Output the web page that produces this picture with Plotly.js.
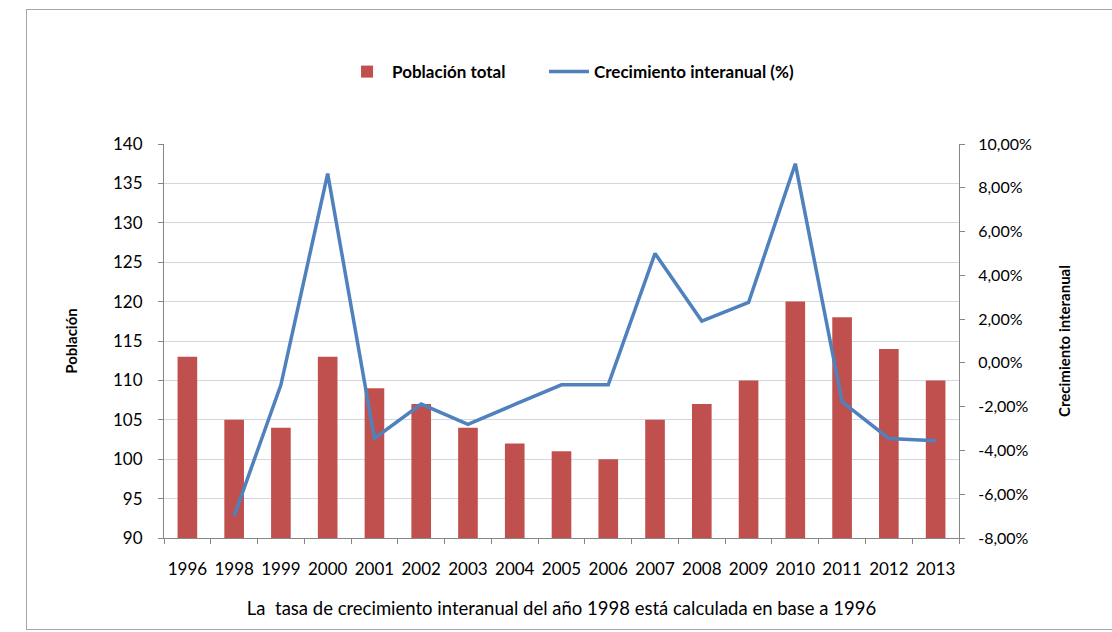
<!DOCTYPE html>
<html>
<head>
<meta charset="utf-8">
<script src="https://cdn.plot.ly/plotly-3.0.1.min.js"></script>
<style>
  html, body { margin: 0; padding: 0; background: #ffffff; }
  #wrap { position: relative; width: 1112px; height: 632px; overflow: hidden; }
  #frame { position: absolute; left: 26px; top: 9px; width: 1100px; height: 621px; border: 1px solid #a6a6a6; box-sizing: border-box; pointer-events: none; }
  #chart { position: absolute; left: 0; top: 0; width: 1112px; height: 632px; }
</style>
</head>
<body>
<div id="wrap">
  <div id="chart"></div>
  <div id="frame"></div>
</div>
<script>
const years = ["1996","1998","1999","2000","2001","2002","2003","2004","2005","2006","2007","2008","2009","2010","2011","2012","2013"];
const poblacionTotal = [113,105,104,113,109,107,104,102,101,100,105,107,110,120,118,114,110];
const crecimientoInteranual = [null,-7.0,-1.0,8.65,-3.45,-1.88,-2.81,-1.9,-1.0,-1.0,5.0,1.91,2.76,9.1,-1.78,-3.45,-3.56];
const leftTicks = [90,95,100,105,110,115,120,125,130,135,140];
const rightTicks = [-8,-6,-4,-2,0,2,4,6,8,10];
const rightTickText = rightTicks.map(v => v.toFixed(2).replace(".", ",") + "%");

const FONT = "Lato, 'Open Sans', sans-serif";
const legendFont = { family: FONT, size: 17, color: "#000000", weight: "bold" };

const traces = [
  {
    type: "bar",
    name: "Población total",
    x: years,
    y: poblacionTotal,
    marker: { color: "#C0504D" },
    yaxis: "y",
    legend: "legend"
  },
  {
    type: "scatter",
    mode: "lines",
    name: "Crecimiento interanual (%)",
    x: years,
    y: crecimientoInteranual,
    line: { color: "#4F81BD", width: 3.5 },
    yaxis: "y2",
    legend: "legend2"
  }
];

const layout = {
  width: 1112,
  height: 632,
  paper_bgcolor: "rgba(0,0,0,0)",
  plot_bgcolor: "#ffffff",
  separators: ",.",
  margin: { l: 164, r: 153, t: 144, b: 94 },
  font: { family: FONT, size: 16, color: "#000000" },
  bargap: 0.58,
  showlegend: true,
  legend: {
    orientation: "h",
    xref: "container", yref: "container",
    x: 0.3076, xanchor: "left",
    y: 0.886, yanchor: "middle",
    font: legendFont,
    itemwidth: 40,
    bgcolor: "rgba(0,0,0,0)"
  },
  legend2: {
    orientation: "h",
    xref: "container", yref: "container",
    x: 0.4892, xanchor: "left",
    y: 0.886, yanchor: "middle",
    font: legendFont,
    itemwidth: 40,
    bgcolor: "rgba(0,0,0,0)"
  },
  xaxis: {
    type: "category",
    categoryorder: "array",
    categoryarray: years,
    showline: true,
    linecolor: "#868686",
    linewidth: 1,
    ticks: "outside",
    tickson: "boundaries",
    ticklen: 5,
    tickcolor: "#868686",
    tickangle: 0,
    ticklabelstandoff: 16,
    showgrid: false,
    tickfont: { family: FONT, size: 17, color: "#000000" },
    title: {
      text: "La  tasa de crecimiento interanual del año 1998 está calculada en base a 1996",
      font: { family: FONT, size: 18.5, color: "#000000" },
      standoff: 23
    }
  },
  yaxis: {
    range: [90, 140],
    tickvals: leftTicks,
    showline: true,
    linecolor: "#868686",
    ticks: "outside",
    ticklen: 5,
    tickcolor: "#868686",
    ticklabelstandoff: 12,
    showgrid: true,
    gridcolor: "#d4d8de",
    gridwidth: 1,
    zeroline: false,
    tickfont: { family: FONT, size: 17, color: "#000000" },
    title: {
      text: "Población",
      font: { family: FONT, size: 15, color: "#000000", weight: "bold" },
      standoff: 31
    }
  },
  yaxis2: {
    overlaying: "y",
    side: "right",
    range: [-8, 10],
    tickvals: rightTicks,
    ticktext: rightTickText,
    showline: true,
    linecolor: "#868686",
    ticks: "outside",
    ticklen: 5,
    tickcolor: "#868686",
    ticklabelstandoff: 10,
    showgrid: false,
    zeroline: false,
    tickfont: { family: FONT, size: 16, color: "#000000" },
    title: {
      text: "Crecimiento interanual",
      font: { family: FONT, size: 15, color: "#000000", weight: "bold" },
      standoff: 28
    }
  }
};

Plotly.newPlot("chart", traces, layout, { displayModeBar: false, staticPlot: true });
</script>
</body>
</html>
